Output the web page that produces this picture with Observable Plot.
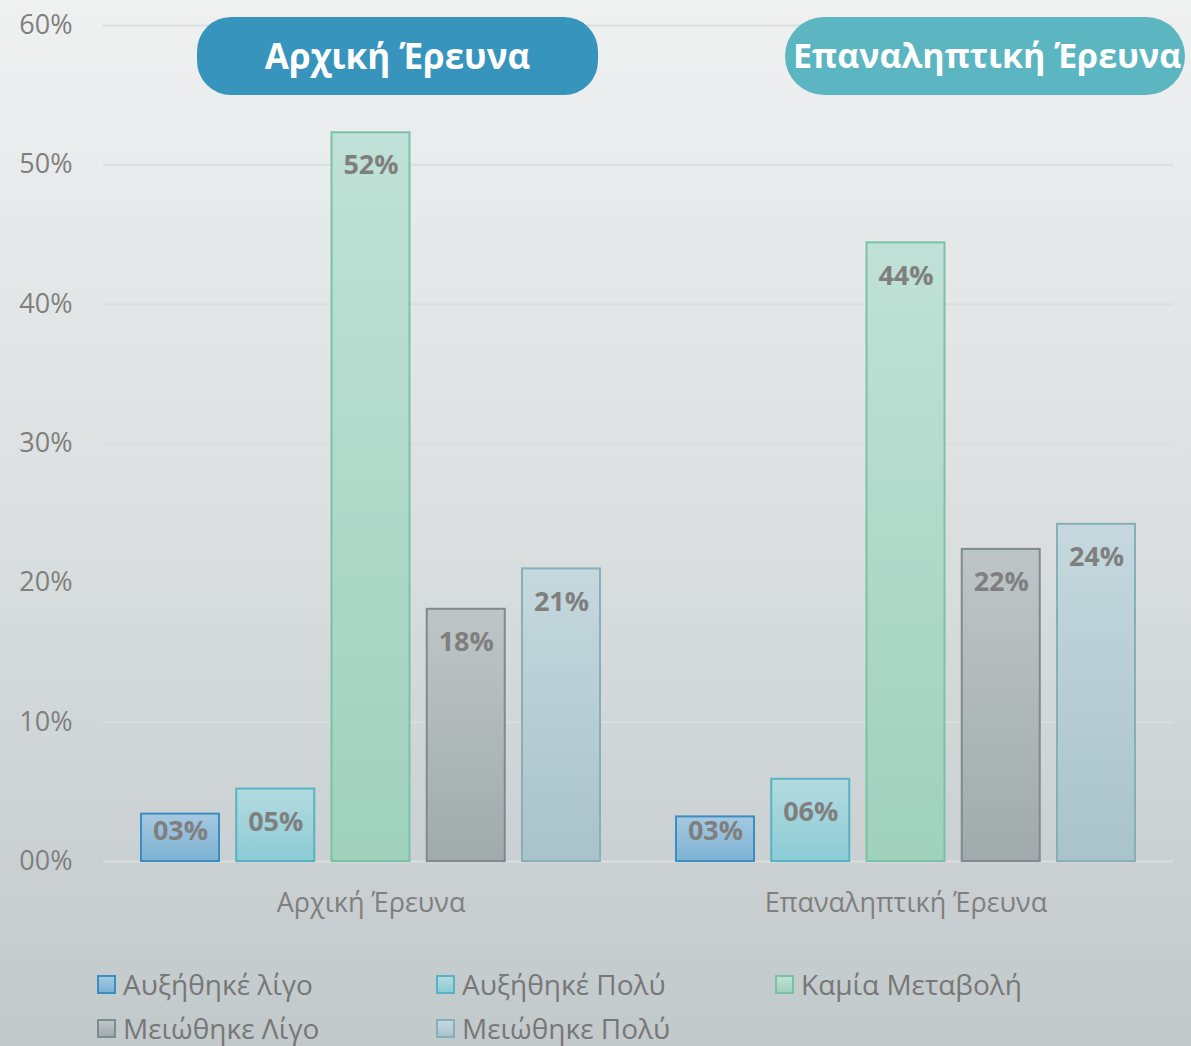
<!DOCTYPE html>
<html>
<head>
<meta charset="utf-8">
<script src="https://cdn.jsdelivr.net/npm/d3@7"></script>
<script src="https://cdn.jsdelivr.net/npm/@observablehq/plot@0.6"></script>
<style>
  html, body { margin: 0; padding: 0; }
  #wrap {
    position: relative; width: 1191px; height: 1046px; overflow: hidden;
    background: linear-gradient(to bottom, #eff1f1 0%, #dde1e2 45%, #c2c9ca 100%);
    font-family: "Open Sans", sans-serif;
  }
  .pill {
    position: absolute; height: 78px; top: 17px; color: #fff;
    font-weight: 700; font-size: 35px; white-space: nowrap;
  }
  .pill span { position: absolute; top: 50%; transform: translateY(-52%); }
  .legend-item {
    position: absolute; display: flex; align-items: center; gap: 7px;
    font-size: 28px; color: #777; white-space: nowrap;
  }
  .sw { width: 15px; height: 15px; border: 2px solid; }
</style>
</head>
<body>
<svg width="0" height="0" style="position:absolute">
  <defs id="gradDefs"></defs>
</svg>
<div id="wrap"></div>
<script>
// ---- data ----
const groups = ["Αρχική Έρευνα", "Επαναληπτική Έρευνα"];
const series = ["Αυξήθηκέ λίγο", "Αυξήθηκέ Πολύ", "Καμία Μεταβολή", "Μειώθηκε Λίγο", "Μειώθηκε Πολύ"];
const initialValues = [3.4, 5.2, 52.3, 18.1, 21.0];
const repeatValues = [3.2, 5.9, 44.4, 22.4, 24.2];
const initialLabels = ["03%", "05%", "52%", "18%", "21%"];
const repeatLabels = ["03%", "06%", "44%", "22%", "24%"];
const yTicks = [0, 10, 20, 30, 40, 50, 60];

// ---- styles ----
const fillTop = ["#a6c9e0", "#b3dbdf", "#c0e1d7", "#bec5c6", "#c5d8dd"];
const fillBottom = ["#7db2d4", "#8ccbd5", "#9fd1bd", "#a1abac", "#a8c3ca"];
const strokes = ["#3a8fc0", "#57b3c3", "#79c2a4", "#7e8b8c", "#86aebb"];

// gradients
const defs = document.getElementById("gradDefs");
series.forEach((s, i) => {
  const g = document.createElementNS("http://www.w3.org/2000/svg", "linearGradient");
  g.setAttribute("id", "g" + i);
  g.setAttribute("x1", "0"); g.setAttribute("y1", "0");
  g.setAttribute("x2", "0"); g.setAttribute("y2", "1");
  [[0, fillTop[i]], [1, fillBottom[i]]].forEach(([o, c]) => {
    const st = document.createElementNS("http://www.w3.org/2000/svg", "stop");
    st.setAttribute("offset", o); st.setAttribute("stop-color", c);
    g.appendChild(st);
  });
  defs.appendChild(g);
});

const data = [];
series.forEach((s, i) => {
  data.push({group: groups[0], series: s, idx: i, value: initialValues[i], label: initialLabels[i]});
  data.push({group: groups[1], series: s, idx: i, value: repeatValues[i], label: repeatLabels[i]});
});

const chart = Plot.plot({
  width: 1191,
  height: 930,
  marginLeft: 103,
  marginRight: 18,
  marginTop: 25,
  marginBottom: 69,
  style: {background: "transparent", fontFamily: "Open Sans", fontSize: "27px", color: "#7f7f7f", overflow: "visible"},
  fx: {domain: groups, padding: 0, round: false, label: null, tickSize: 0, tickPadding: 31, axis: "bottom"},
  x: {domain: series, paddingInner: 0.181, paddingOuter: 0.399, round: false, axis: null},
  y: {domain: [0, 60], ticks: yTicks, tickSize: 0, tickPadding: 31,
      tickFormat: d => String(d).padStart(2, "0") + "%", label: null},
  marks: [
    Plot.ruleY(yTicks, {stroke: "#dadedf", strokeWidth: 2}),
    Plot.barY(data, {
      fx: "group", x: "series", y: "value",
      fill: d => `url(#g${d.idx})`,
      stroke: d => strokes[d.idx],
      strokeWidth: 2
    }),
    Plot.text(data, {
      fx: "group", x: "series",
      y: d => Math.max(d.value, 4.5),
      dy: 33,
      text: "label",
      fontWeight: "bold",
      fontSize: 27,
      fill: "#7f7f7f"
    })
  ]
});
const wrap = document.getElementById("wrap");
wrap.appendChild(chart);

// title pills
const p1 = document.createElement("div");
p1.className = "pill";
Object.assign(p1.style, {left: "197px", width: "401px", background: "#3794bd", borderRadius: "34px"});
p1.innerHTML = `<span style="left:0;right:0;text-align:center">${groups[0]}</span>`;
wrap.appendChild(p1);
const p2 = document.createElement("div");
p2.className = "pill";
Object.assign(p2.style, {left: "785px", width: "400px", background: "#5bb6c1", borderRadius: "39px", fontSize: "34px"});
p2.innerHTML = `<span style="left:8px">${groups[1]}</span>`;
wrap.appendChild(p2);

// legend
const legendPos = [[97, 984], [436, 984], [775, 984], [97, 1028], [436, 1028]];
series.forEach((s, i) => {
  const it = document.createElement("div");
  it.className = "legend-item";
  it.style.left = legendPos[i][0] + "px";
  it.style.top = (legendPos[i][1] - 19) + "px";
  it.innerHTML = `<div class="sw" style="border-color:${strokes[i]};background:linear-gradient(${fillTop[i]},${fillBottom[i]})"></div><span>${s}</span>`;
  wrap.appendChild(it);
});
</script>
</body>
</html>
